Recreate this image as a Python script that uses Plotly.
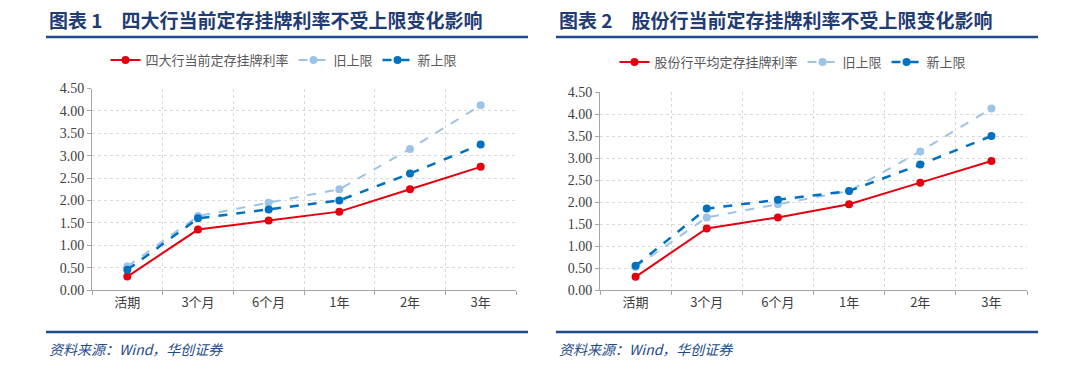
import plotly.graph_objects as go

categories = ["活期", "3个月", "6个月", "1年", "2年", "3年"]

# Panel 1: big four banks
big4_current = [0.30, 1.35, 1.55, 1.75, 2.25, 2.75]
big4_old_cap = [0.525, 1.65, 1.95, 2.25, 3.15, 4.125]
big4_new_cap = [0.45, 1.60, 1.80, 2.00, 2.60, 3.25]

# Panel 2: joint-stock banks
js_current = [0.30, 1.40, 1.65, 1.95, 2.44, 2.93]
js_old_cap = [0.525, 1.65, 1.95, 2.25, 3.15, 4.125]
js_new_cap = [0.55, 1.85, 2.05, 2.25, 2.85, 3.50]

title1 = "图表 1　四大行当前定存挂牌利率不受上限变化影响"
title2 = "图表 2　股份行当前定存挂牌利率不受上限变化影响"
source = "资料来源：Wind，华创证券"
names1 = ["四大行当前定存挂牌利率", "旧上限", "新上限"]
names2 = ["股份行平均定存挂牌利率", "旧上限", "新上限"]

RED = "#E3000F"
LIGHT = "#9DC3E6"
BLUE = "#0070C0"
NAVY = "#1F4A8C"
W, H = 1080, 372

fig = go.Figure()

def add_panel(cur, old, new, names, xa, ya, leg):
    styles = [
        (cur, names[0], dict(color=RED, width=2), dict(color=RED, size=8)),
        (old, names[1], dict(color=LIGHT, width=2, dash="dash"), dict(color=LIGHT, size=8)),
        (new, names[2], dict(color=BLUE, width=2.5, dash="dash"), dict(color=BLUE, size=8)),
    ]
    for vals, nm, ln, mk in styles:
        fig.add_trace(go.Scatter(x=categories, y=vals, name=nm, mode="lines+markers",
                                 line=ln, marker=mk, xaxis=xa, yaxis=ya, legend=leg))

add_panel(big4_current, big4_old_cap, big4_new_cap, names1, "x", "y", "legend")
add_panel(js_current, js_old_cap, js_new_cap, names2, "x2", "y2", "legend2")

def px(x):
    return x / W

def py(y):
    return 1 - y / H

xaxis_common = dict(type="category", range=[-0.5, 5.5], tickson="boundaries",
                    showgrid=True, gridcolor="#D9D9D9", griddash="dot", gridwidth=1,
                    showline=True, linecolor="#A6A6A6", linewidth=1,
                    ticks="outside", ticklen=4, tickcolor="#A6A6A6",
                    tickfont=dict(family="Noto Sans CJK SC", size=13, color="#404040"),
                    zeroline=False, fixedrange=True, automargin=False)
yaxis_common = dict(range=[0, 4.5], dtick=0.5, tickformat=".2f",
                    showgrid=True, gridcolor="#D9D9D9", griddash="dot", gridwidth=1,
                    showline=True, linecolor="#A6A6A6", linewidth=1,
                    ticks="outside", ticklen=4, tickcolor="#A6A6A6",
                    tickfont=dict(family="Liberation Serif, Noto Sans CJK SC", size=14, color="#404040"),
                    zeroline=False, fixedrange=True, automargin=False)

fig.update_layout(
    width=W, height=H,
    margin=dict(l=0, r=0, t=0, b=0, autoexpand=False),
    paper_bgcolor="white", plot_bgcolor="white",
    xaxis=dict(xaxis_common, domain=[px(92), px(516)], anchor="y"),
    yaxis=dict(yaxis_common, domain=[py(290), py(88.5)], anchor="x"),
    xaxis2=dict(xaxis_common, domain=[px(600), px(1027)], anchor="y2"),
    yaxis2=dict(yaxis_common, domain=[py(290), py(92)], anchor="x2"),
    legend=dict(orientation="h", x=px(284), y=py(60), xanchor="center", yanchor="middle",
                font=dict(family="Noto Sans CJK SC", size=13, color="#595959"),
                bgcolor="rgba(0,0,0,0)", traceorder="normal"),
    legend2=dict(orientation="h", x=px(793), y=py(62), xanchor="center", yanchor="middle",
                 font=dict(family="Noto Sans CJK SC", size=13, color="#595959"),
                 bgcolor="rgba(0,0,0,0)", traceorder="normal"),
    showlegend=True,
)

shapes = []
for x0, x1 in [(46, 528), (556, 1038)]:
    for yy in [37, 332]:
        shapes.append(dict(type="line", xref="paper", yref="paper",
                           x0=px(x0), x1=px(x1), y0=py(yy), y1=py(yy),
                           line=dict(color=NAVY, width=2.5)))
fig.update_layout(shapes=shapes)

annotations = []
for x0, t in [(47, title1), (557, title2)]:
    annotations.append(dict(text="<b>" + t + "</b>", xref="paper", yref="paper",
                            x=px(x0), y=py(20), xanchor="left", yanchor="middle",
                            showarrow=False,
                            font=dict(family="Noto Sans CJK SC", size=19, color="#1F3C74")))
    annotations.append(dict(text=source, xref="paper", yref="paper",
                            x=px(x0), y=py(349), xanchor="left", yanchor="middle",
                            showarrow=False,
                            font=dict(family="Noto Sans CJK SC", size=14, color=NAVY, style="italic")))
fig.update_layout(annotations=annotations)

fig.write_html("out.html",
               config={"displayModeBar": False, "staticPlot": False},
               post_script="document.body.style.margin='0';document.body.style.padding='0';")
